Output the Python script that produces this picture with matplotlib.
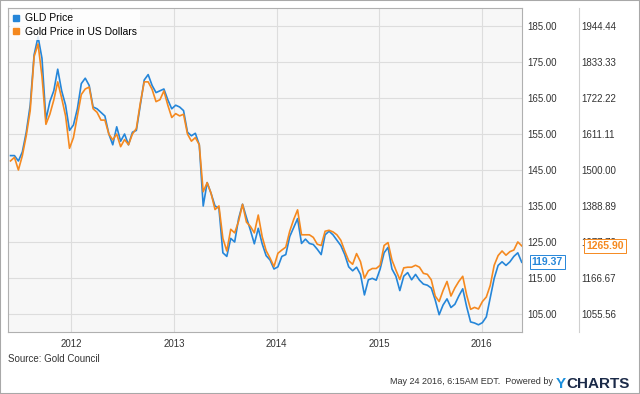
import pandas as pd
import matplotlib
matplotlib.use("Agg")
import matplotlib.pyplot as plt
import matplotlib.dates as mdates
from matplotlib.lines import Line2D
from matplotlib.patches import Rectangle

plt.rcParams["font.family"] = ["Liberation Sans", "DejaVu Sans"]

# bi-weekly samples, May 2011 -> May 23 2016
dates = pd.date_range("2011-05-30", periods=131, freq="14D")

# GLD price (first scale)
gld_price = [
    149, 149, 147.5, 150, 155.5, 163, 177, 182, 176, 159, 164, 167, 173, 167, 163, 156,
    157.5, 162, 169, 170.5, 168.5, 162.5, 162, 161, 160, 155, 152,
    157, 153, 155, 152, 155.5, 156, 163, 170, 171.5, 168.5, 166.5, 167, 167.5, 164.5,
    162, 163, 162.5, 161.5, 155.5, 154.5, 155.2, 152, 135, 141.5, 138.5, 135,
    134.4, 122, 121, 126, 125, 131.5, 135.5, 131.8, 128.3, 124.5, 128.8, 124.5, 121.2,
    120, 117.5, 118.1, 121, 121.5, 126.5, 129, 131.5, 124.6, 125.8, 124.6, 124.3, 123, 121.5,
    127, 128, 127, 125.5, 124, 121.5, 118.1, 117, 118, 116, 110.3, 114.5, 114.9, 114.4,
    117.5, 122, 123.5, 117.5, 115.5, 111.5, 115.5, 116.5, 114.5, 116, 114.4, 113.3,
    113, 112.2, 108.9, 104.8, 107.5, 109.2, 106.8, 107.7, 110, 112, 107, 102.8, 102.5,
    102, 102.6, 104.2, 109.5, 114.9, 118.5, 119.5, 118.5, 119.5, 121, 122, 119.37,
]

# gold price in US dollars (second scale)
gold_usd = [
    1528, 1539, 1500, 1544, 1606, 1683, 1850, 1889, 1789, 1641, 1672, 1716, 1772, 1722,
    1667, 1567, 1600, 1667, 1733, 1750, 1756, 1689, 1678, 1654, 1654, 1611, 1593,
    1611, 1572, 1594, 1578, 1611, 1628, 1706, 1772, 1772, 1749, 1711, 1717, 1744, 1700,
    1662, 1674, 1667, 1672, 1611, 1589, 1600, 1578, 1433, 1461, 1428, 1378,
    1389, 1289, 1250, 1317, 1306, 1342, 1394, 1339, 1326, 1306, 1361, 1294, 1251,
    1228, 1202, 1243, 1253, 1262, 1311, 1347, 1377, 1300, 1300, 1300, 1292, 1271, 1267,
    1311, 1314, 1309, 1300, 1283, 1250, 1220, 1209, 1242, 1217, 1166, 1189, 1196, 1196,
    1206, 1267, 1276, 1222, 1191, 1162, 1198, 1200, 1200, 1206, 1200, 1181,
    1178, 1161, 1111, 1094, 1128, 1156, 1111, 1136, 1156, 1172, 1114, 1070, 1076,
    1071, 1094, 1108, 1144, 1206, 1236, 1250, 1237, 1248, 1253, 1278, 1265.90,
]

gld_ticks = [105, 115, 125, 135, 145, 155, 165, 175, 185]
gold_ticks = [1055.56, 1166.67, 1277.78, 1388.89, 1500.00,
              1611.11, 1722.22, 1833.33, 1944.44]

BLUE = "#2586d9"
ORANGE = "#f5891f"
TXT = "#333333"


def main():
    fig = plt.figure(figsize=(6.4, 3.94), dpi=100)
    ax = fig.add_axes([8 / 640, 1 - 332 / 394, 514 / 640, 324 / 394])
    ax.set_facecolor("#f7f7f7")

    ax.plot(dates, gld_price, color=BLUE, lw=1.2)
    ax.set_xlim(pd.Timestamp("2011-05-21"), pd.Timestamp("2016-05-24"))
    ax.set_ylim(100, 190)

    # second scale for the gold price (twinx resets ax ticks to the left,
    # so do it before styling ax)
    ax2 = ax.twinx()
    ax2.plot(dates, gold_usd, color=ORANGE, lw=1.2)
    ax2.set_ylim(1000, 2000)

    ax.yaxis.tick_right()
    ax.set_yticks(gld_ticks)
    ax.set_yticklabels([f"{v:.2f}" for v in gld_ticks])
    ax.tick_params(axis="y", left=False, labelleft=False, right=True,
                   labelright=True, length=0, pad=4, labelsize=7, labelcolor=TXT)
    ax.xaxis.set_major_locator(mdates.YearLocator())
    ax.xaxis.set_major_formatter(mdates.DateFormatter("%Y"))
    ax.tick_params(axis="x", length=0, pad=5, labelsize=7, labelcolor=TXT)
    ax.grid(color="#dddddd", lw=0.8)
    for s in ax.spines.values():
        s.set_color("#b0b0b0")
        s.set_linewidth(0.8)

    for side in ("left", "top", "bottom"):
        ax2.spines[side].set_visible(False)
    ax2.spines["right"].set_position(("axes", (579 - 8) / 514))
    ax2.spines["right"].set_color("#d0d0d0")
    ax2.spines["right"].set_linewidth(0.8)
    ax2.set_yticks(gold_ticks)
    ax2.set_yticklabels([f"{v:.2f}" for v in gold_ticks])
    ax2.tick_params(axis="y", length=0, pad=2, labelsize=7, labelcolor=TXT)

    # last-value callouts
    ax.annotate(f"{gld_price[-1]:.2f}", xy=(1, gld_price[-1]),
                xycoords=("axes fraction", "data"), xytext=(7, 0),
                textcoords="offset points", ha="left", va="center",
                fontsize=7.5, fontweight="bold", color=BLUE,
                bbox=dict(boxstyle="square,pad=0.2", fc="white", ec=BLUE, lw=0.7),
                annotation_clip=False)
    ax2.annotate(f"{gold_usd[-1]:.2f}", xy=((579 - 8) / 514, gold_usd[-1]),
                 xycoords=("axes fraction", "data"), xytext=(5, 0),
                 textcoords="offset points", ha="left", va="center",
                 fontsize=7.5, fontweight="bold", color=ORANGE,
                 bbox=dict(boxstyle="square,pad=0.2", fc="white", ec=ORANGE, lw=0.7),
                 annotation_clip=False)

    handles = [Line2D([], [], ls="", marker="s", ms=5, color=BLUE),
               Line2D([], [], ls="", marker="s", ms=5, color=ORANGE)]
    ax2.legend(handles, ["GLD Price", "Gold Price in US Dollars"], loc="upper left",
               fontsize=7.5, frameon=True, facecolor="white", edgecolor="none",
               framealpha=0.85, handlelength=0.6, handletextpad=0.5,
               borderaxespad=0.2, borderpad=0.3, labelspacing=0.35, fancybox=False)

    fig.text(8 / 640, 1 - 359 / 394, "Source: Gold Council", fontsize=7,
             color=TXT, va="center")
    fig.text(553 / 640, 1 - 382 / 394, "May 24 2016, 6:15AM EDT.  Powered by",
             fontsize=6.5, color=TXT, va="center", ha="right")
    y_txt = fig.text(556 / 640, 1 - 388 / 394, "Y", fontsize=11,
                     fontweight="bold", color="#1a8fdd", va="baseline")
    ax.annotate("CHARTS", xy=(1, 0), xycoords=y_txt, va="bottom", ha="left",
                fontsize=11, fontweight="bold", color="#1b2a48",
                annotation_clip=False)

    fig.add_artist(Rectangle((0, 0), 1, 1, transform=fig.transFigure,
                             fill=False, ec="#a8a8a8", lw=1.5))

    fig.savefig("out.png", dpi=100)
    plt.close(fig)


if __name__ == "__main__":
    main()
